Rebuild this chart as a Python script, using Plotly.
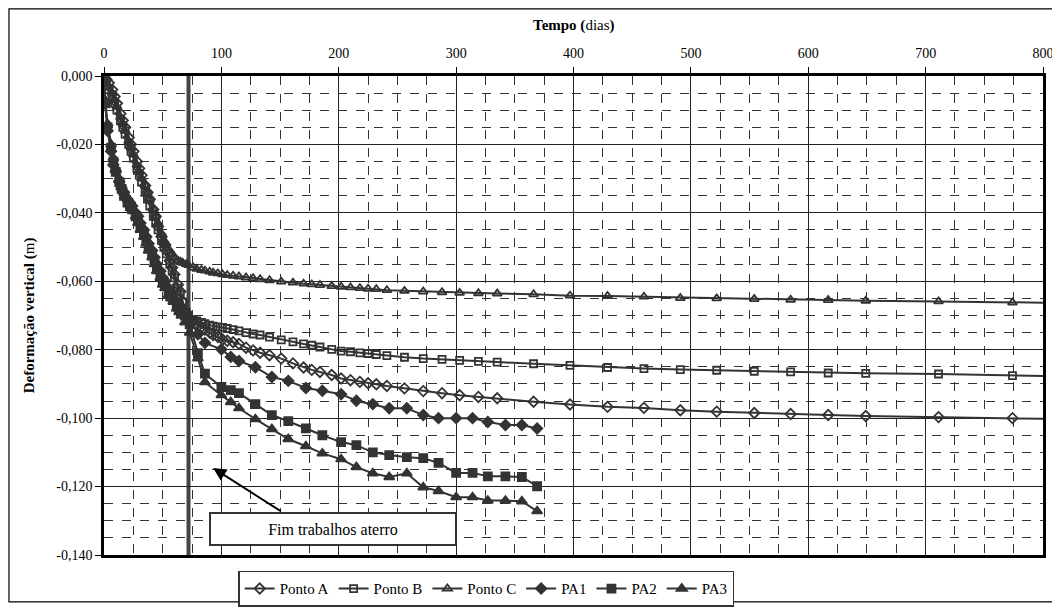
import plotly.graph_objects as go

# ---------------- data ----------------
dias_pontos = [0, 2, 4, 7, 9, 11, 14, 16, 18, 21, 23, 25, 28, 30, 32, 35, 37, 39, 42, 44, 46,
               49, 51, 53, 56, 58, 60, 63, 65, 67, 70,
               72, 76, 79, 83, 86, 90, 93, 97, 101, 105, 110, 115, 121, 127, 133, 141, 151,
               161, 170, 177, 184, 194, 202, 210, 218, 225, 232, 241, 256, 272, 288, 303, 319,
               335, 366, 397, 429, 460, 491, 522, 554, 585, 617, 649, 711, 774, 836]

ponto_a = [0, -0.001, -0.002, -0.004, -0.006, -0.008, -0.011, -0.013, -0.015, -0.018, -0.020,
           -0.022, -0.025, -0.027, -0.029, -0.032, -0.034, -0.036, -0.039, -0.041, -0.044,
           -0.047, -0.049, -0.051, -0.054, -0.056, -0.058, -0.061, -0.063, -0.066, -0.069,
           -0.0708, -0.0718, -0.0726, -0.0734, -0.0741, -0.0750, -0.0757, -0.0763, -0.0770,
           -0.0774, -0.0778, -0.0783, -0.0794, -0.0802, -0.0809, -0.0816, -0.0826, -0.0840,
           -0.0852, -0.0859, -0.0865, -0.0874, -0.0884, -0.0889, -0.0894, -0.0898, -0.0901,
           -0.0906, -0.0913, -0.0921, -0.0927, -0.0933, -0.0938, -0.0942, -0.0952, -0.0960,
           -0.0967, -0.0970, -0.0977, -0.0981, -0.0985, -0.0988, -0.0991, -0.0994, -0.0997,
           -0.1000, -0.1004]

ponto_b = [0, -0.002, -0.004, -0.006, -0.008, -0.010, -0.013, -0.015, -0.017, -0.020, -0.022,
           -0.024, -0.027, -0.029, -0.031, -0.034, -0.036, -0.038, -0.041, -0.043, -0.045,
           -0.048, -0.050, -0.052, -0.055, -0.057, -0.059, -0.062, -0.064, -0.066, -0.069,
           -0.0705, -0.0712, -0.0716, -0.0720, -0.0724, -0.0728, -0.0731, -0.0733, -0.0735,
           -0.0738, -0.0741, -0.0745, -0.0750, -0.0754, -0.0757, -0.0763, -0.0771, -0.0777,
           -0.0783, -0.0787, -0.0792, -0.0799, -0.0804, -0.0806, -0.0809, -0.0811, -0.0814,
           -0.0817, -0.0822, -0.0826, -0.0828, -0.0831, -0.0834, -0.0836, -0.0841, -0.0846,
           -0.0852, -0.0855, -0.0858, -0.0860, -0.0863, -0.0865, -0.0868, -0.0869, -0.0871,
           -0.0876, -0.0879]

ponto_c = [0, -0.001, -0.003, -0.005, -0.007, -0.009, -0.012, -0.014, -0.016, -0.019, -0.021,
           -0.023, -0.026, -0.028, -0.030, -0.032, -0.034, -0.036, -0.039, -0.041, -0.043,
           -0.046, -0.048, -0.049, -0.051, -0.052, -0.053, -0.054, -0.0543, -0.0546, -0.055,
           -0.0553, -0.0560, -0.0564, -0.0567, -0.0569, -0.0572, -0.0575, -0.0577, -0.0580,
           -0.0582, -0.0584, -0.0586, -0.0589, -0.0591, -0.0594, -0.0597, -0.0601, -0.0604,
           -0.0607, -0.0609, -0.0611, -0.0614, -0.0616, -0.0618, -0.0620, -0.0622, -0.0623,
           -0.0626, -0.0628, -0.0630, -0.0632, -0.0634, -0.0635, -0.0636, -0.0638, -0.0642,
           -0.0643, -0.0645, -0.0649, -0.0650, -0.0652, -0.0654, -0.0655, -0.0657, -0.0659,
           -0.0662, -0.0664]

dias_pa = [0, 1, 3, 6, 8, 10, 13, 15, 17, 20, 22, 24, 27, 29, 31, 34, 36, 38, 41, 43, 45, 48,
           50, 52, 55, 57, 59, 62, 64, 66, 69,
           73, 80, 86, 100, 108, 115, 129, 143, 157, 172, 186, 202, 215, 229, 243, 258, 272,
           285, 300, 314, 327, 342, 356, 369]

pa1 = [0, -0.008, -0.016, -0.022, -0.026, -0.028, -0.031, -0.033, -0.034, -0.036, -0.037,
       -0.038, -0.040, -0.041, -0.043, -0.045, -0.047, -0.049, -0.051, -0.053, -0.055, -0.057,
       -0.059, -0.060, -0.062, -0.063, -0.064, -0.066, -0.067, -0.068, -0.069,
       -0.0710, -0.0755, -0.0780, -0.0799, -0.0821, -0.0833, -0.0851, -0.0880, -0.0891,
       -0.0912, -0.0920, -0.0930, -0.0949, -0.0959, -0.0971, -0.0971, -0.0991, -0.1000,
       -0.1000, -0.1000, -0.1011, -0.1020, -0.1020, -0.1030]

pa2 = [0, -0.008, -0.015, -0.021, -0.025, -0.028, -0.031, -0.033, -0.035, -0.037, -0.038,
       -0.039, -0.041, -0.042, -0.044, -0.046, -0.048, -0.050, -0.052, -0.054, -0.056, -0.058,
       -0.060, -0.061, -0.063, -0.064, -0.065, -0.067, -0.068, -0.069, -0.070,
       -0.0725, -0.0810, -0.0870, -0.0909, -0.0918, -0.0927, -0.0959, -0.0991, -0.1009,
       -0.1030, -0.1050, -0.1070, -0.1079, -0.1100, -0.1108, -0.1114, -0.1117, -0.1131,
       -0.1160, -0.1160, -0.1170, -0.1170, -0.1172, -0.1199]

pa3 = [0, -0.007, -0.014, -0.020, -0.024, -0.027, -0.030, -0.032, -0.034, -0.036, -0.037,
       -0.039, -0.041, -0.043, -0.045, -0.047, -0.049, -0.051, -0.053, -0.055, -0.057, -0.059,
       -0.061, -0.062, -0.064, -0.065, -0.066, -0.068, -0.069, -0.070, -0.072,
       -0.0750, -0.0825, -0.0895, -0.0933, -0.0953, -0.0971, -0.1003, -0.1032, -0.1061,
       -0.1082, -0.1103, -0.1120, -0.1143, -0.1161, -0.1172, -0.1161, -0.1202, -0.1213,
       -0.1231, -0.1231, -0.1241, -0.1241, -0.1243, -0.1272]

x_ticks = [0, 100, 200, 300, 400, 500, 600, 700, 800]
x_ticklabels = ["0", "100", "200", "300", "400", "500", "600", "700", "800"]
y_ticks = [0, -0.02, -0.04, -0.06, -0.08, -0.10, -0.12, -0.14]
y_ticklabels = ["0,000", "-0,020", "-0,040", "-0,060", "-0,080", "-0,100", "-0,120", "-0,140"]

fim_aterro_dia = 72
nota_texto = "Fim trabalhos aterro"

# ---------------- figure ----------------
FONT = "Times New Roman, Liberation Serif, serif"
LC = "#333333"

series = [
    ("Ponto A", dias_pontos, ponto_a, "diamond-open", 8),
    ("Ponto B", dias_pontos, ponto_b, "square-open", 7),
    ("Ponto C", dias_pontos, ponto_c, "triangle-up-open", 8),
    ("PA1", dias_pa, pa1, "diamond", 8),
    ("PA2", dias_pa, pa2, "square", 8),
    ("PA3", dias_pa, pa3, "triangle-up", 9),
]

fig = go.Figure()
for name, xs, ys, sym, sz in series:
    fig.add_trace(go.Scatter(
        x=xs, y=ys, name=name, mode="lines+markers",
        line=dict(color=LC, width=2),
        marker=dict(symbol=sym, size=sz, color=LC, line=dict(color=LC, width=1.8)),
    ))

# the page body adds an 8px offset, so the figure is 8px smaller and shifted
fig.update_layout(
    width=1052, height=599, autosize=False,
    margin=dict(l=96, r=17, t=68, b=52, autoexpand=False),
    paper_bgcolor="white", plot_bgcolor="white",
    font=dict(family=FONT, size=14, color="black"),
    showlegend=True,
    legend=dict(
        orientation="h", x=0.407, xanchor="center", y=-0.033, yanchor="top",
        bordercolor="#333333", borderwidth=1.5, bgcolor="white",
        font=dict(family=FONT, size=15), itemwidth=30, tracegroupgap=0,
    ),
)

fig.update_xaxes(
    range=[0, 800], side="top", automargin=False,
    tickmode="array", tickvals=x_ticks, ticktext=x_ticklabels,
    ticks="outside", ticklen=6, tickcolor="black", tickwidth=1, ticklabelstandoff=4,
    showline=True, linecolor="black", linewidth=2.5, mirror=True,
    showgrid=True, gridcolor="#222222", gridwidth=1,
    minor=dict(tickmode="linear", tick0=0, dtick=25, showgrid=True, griddash="dash",
               gridcolor="#333333", gridwidth=1),
    zeroline=False, tickfont=dict(family=FONT, size=14),
)
fig.update_yaxes(
    range=[-0.14, 0], automargin=False,
    tickmode="array", tickvals=y_ticks, ticktext=y_ticklabels,
    ticks="outside", ticklen=6, tickcolor="black", tickwidth=1,
    showline=True, linecolor="black", linewidth=2.5, mirror=True,
    showgrid=True, gridcolor="#222222", gridwidth=1,
    minor=dict(tickmode="linear", tick0=0, dtick=0.005, showgrid=True, griddash="dash",
               gridcolor="#333333", gridwidth=1),
    zeroline=False, tickfont=dict(family=FONT, size=14),
)

# end of earthworks line
fig.add_shape(type="line", x0=fim_aterro_dia, x1=fim_aterro_dia, y0=0, y1=-0.14,
              xref="x", yref="y", line=dict(color="#444444", width=4), layer="below")

# outer frame of the chart
fig.add_shape(type="rect", xref="paper", yref="paper",
              x0=-0.1012, x1=1.0107, y0=-0.098, y1=1.140,
              line=dict(color="black", width=1.2), fillcolor="rgba(0,0,0,0)", layer="above")

# arrow
fig.add_annotation(x=93, y=-0.1146, ax=152, ay=-0.1275, xref="x", yref="y",
                   axref="x", ayref="y", text="", showarrow=True,
                   arrowhead=2, arrowsize=1.3, arrowwidth=2, arrowcolor="black")
# text box
fig.add_annotation(x=195.5, y=-0.1325, xref="x", yref="y", text=nota_texto,
                   showarrow=False, font=dict(family=FONT, size=16, color="black"),
                   bgcolor="white", bordercolor="#333333", borderwidth=2,
                   width=242, height=28, borderpad=1)

# axis titles
fig.add_annotation(x=0.5, y=1.106, xref="paper", yref="paper", showarrow=False,
                   xanchor="center", yanchor="middle",
                   text="<b>Tempo (</b>dias<b>)</b>",
                   font=dict(family=FONT, size=15, color="black"))
fig.add_annotation(x=-0.079, y=0.5, xref="paper", yref="paper", showarrow=False,
                   xanchor="center", yanchor="middle",
                   textangle=-90, text="<b>Deformação vertical (</b>m<b>)</b>",
                   font=dict(family=FONT, size=15, color="black"))

fig.write_html("out.html")
